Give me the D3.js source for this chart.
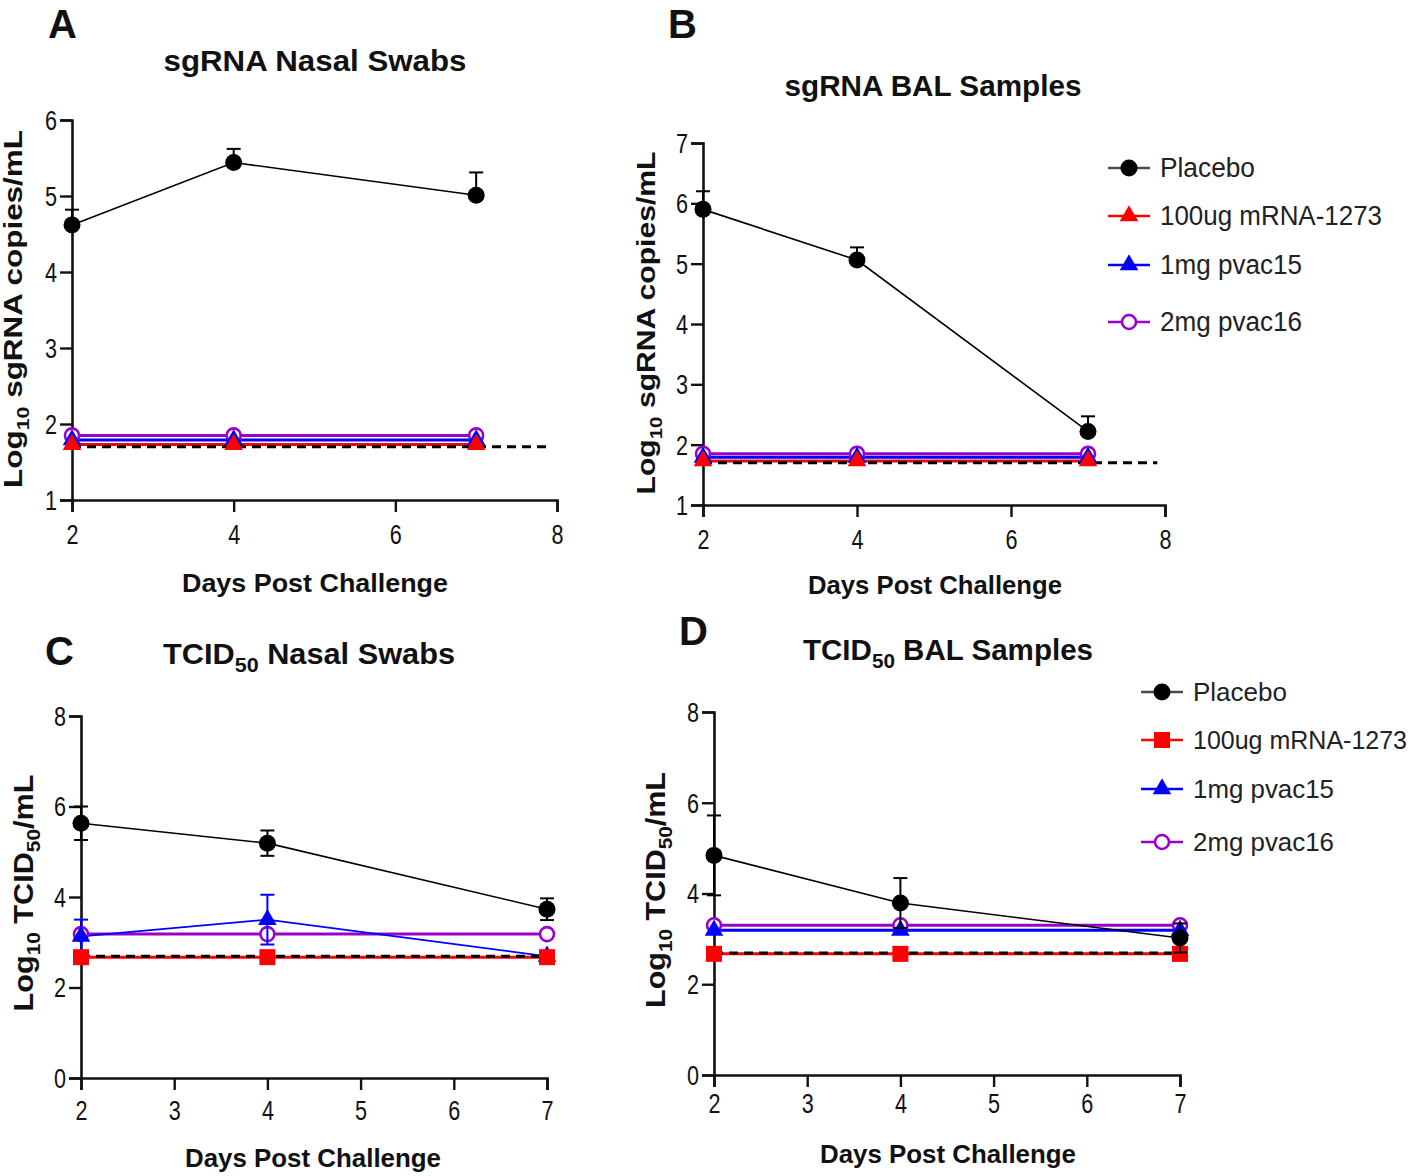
<!DOCTYPE html>
<html>
<head>
<meta charset="utf-8">
<script src="https://cdn.jsdelivr.net/npm/d3@7/dist/d3.min.js"></script>
<style>
  body { margin: 0; background: #fff; }
  svg { display: block; }
  .tick text { font-family: "Liberation Sans", Arial, sans-serif; font-size: 27px; fill: #111; }
</style>
</head>
<body>
<div id="chart"></div>
<script>
// DATA
const days = [2, 4, 7];
const groups = ["Placebo", "100ug mRNA-1273", "1mg pvac15", "2mg pvac16"];
const colors = ["#000000", "#ff0000", "#0000ff", "#9900cc"];

// A  sgRNA nasal swabs
const aPlacebo = [4.62, 5.44, 5.01];
const aPlaceboErr = [0.20, 0.18, 0.30];
const aMrna = [1.73, 1.73, 1.73];
const aPvac15 = [1.79, 1.79, 1.79];
const aPvac16 = [1.85, 1.85, 1.85];
const aLod = 1.7;

// B  sgRNA BAL
const bPlacebo = [5.90, 5.06, 2.22];
const bPlaceboErr = [0.30, 0.21, 0.25];
const bMrna = [1.73, 1.73, 1.73];
const bPvac15 = [1.79, 1.79, 1.79];
const bPvac16 = [1.85, 1.85, 1.85];
const bLod = 1.7;

// C  TCID50 nasal swabs
const cPlacebo = [5.63, 5.19, 3.73];
const cPlaceboErr = [0.37, 0.28, 0.24];
const cMrna = [2.67, 2.67, 2.67];
const cPvac15 = [3.13, 3.50, 2.69];
const cPvac15Err = [0.37, 0.55, 0];
const cPvac16 = [3.18, 3.18, 3.18];
const cLod = 2.69;

// D  TCID50 BAL
const dPlacebo = [4.84, 3.79, 3.02];
const dPlaceboErr = [0.88, 0.55, 0.32];
const dMrna = [2.67, 2.67, 2.67];
const dPvac15 = [3.19, 3.19, 3.19];
const dPvac16 = [3.30, 3.30, 3.30];
const dLod = 2.69;

const xTicksAB = [2, 4, 6, 8];
const xTicksCD = [2, 3, 4, 5, 6, 7];

const W = 1417, H = 1176;
const svg = d3.select("#chart").append("svg").attr("width", W).attr("height", H);

const SANS = "'Liberation Sans', Arial, sans-serif";

// the source figure is squeezed sideways, so glyphs get narrowed
function squeeze(sel, k) {
  sel.each(function () {
    const t = d3.select(this);
    const xx = +t.attr("x") || 0;
    t.attr("x", 0).attr("transform", `translate(${xx},0) scale(${k},1)`);
  });
}

function drawPanel(p) {
  const x = d3.scaleLinear().domain(p.xDomain).range(p.xRange);
  const y = d3.scaleLinear().domain(p.yDomain).range(p.yRange);
  const g = svg.append("g");

  // axes
  const xa = g.append("g")
    .attr("transform", `translate(0,${p.yRange[0]})`)
    .call(d3.axisBottom(x).tickValues(p.xTicks).tickSize(12).tickPadding(p.xPad).tickFormat(d3.format("d")));
  const ya = g.append("g")
    .attr("transform", `translate(${p.xRange[0]},0)`)
    .call(d3.axisLeft(y).tickValues(p.yTicks).tickSize(12).tickPadding(3).tickFormat(d3.format("d")));
  [xa, ya].forEach(a => {
    a.select(".domain").attr("stroke-width", 2.6).attr("stroke", "#111");
    a.selectAll(".tick line").attr("stroke-width", 2.4).attr("stroke", "#111");
  });
  xa.selectAll(".tick text").attr("dy", null).attr("dominant-baseline", "hanging");
  ya.selectAll(".tick text").attr("dy", null).attr("dominant-baseline", "central");
  squeeze(xa.selectAll(".tick text"), 0.8);
  squeeze(ya.selectAll(".tick text"), 0.8);

  const line = d3.line().x((d, i) => x(days[i])).y(d => y(d));

  // coloured series, drawn back to front
  p.series.slice().reverse().forEach(s => {
    g.append("path").datum(s.values)
      .attr("fill", "none").attr("stroke", s.color)
      .attr("stroke-width", s.width).attr("d", line);
  });

  // limit of detection
  g.append("line")
    .attr("x1", x(2)).attr("x2", x(p.lodEnd))
    .attr("y1", y(p.lod)).attr("y2", y(p.lod))
    .attr("stroke", "#000").attr("stroke-width", 3).attr("stroke-dasharray", "9,6");

  // error bars and markers
  p.series.slice().reverse().forEach(s => {
    if (s.err) {
      s.values.forEach((v, i) => {
        const e = s.err[i];
        if (!e) return;
        const lo = p.bothWays ? v - e : v;
        g.append("line").attr("x1", x(days[i])).attr("x2", x(days[i]))
          .attr("y1", y(v + e)).attr("y2", y(lo))
          .attr("stroke", s.color).attr("stroke-width", 2);
        const caps = p.bothWays ? [v + e, v - e] : [v + e];
        caps.forEach(c => {
          g.append("line").attr("x1", x(days[i]) - 7).attr("x2", x(days[i]) + 7)
            .attr("y1", y(c)).attr("y2", y(c))
            .attr("stroke", s.color).attr("stroke-width", 2);
        });
      });
    }
    s.values.forEach((v, i) => drawMarker(g, s.marker, x(days[i]), y(v), s.color));
  });

  // titles
  const title = svg.append("text").attr("x", p.titleX).attr("y", p.titleY)
    .attr("text-anchor", "middle").attr("font-family", SANS)
    .attr("font-weight", "bold").attr("font-size", 30).attr("fill", "#111")
    .attr("textLength", p.titleLen).attr("lengthAdjust", "spacingAndGlyphs");
  p.title.forEach(t => title.append("tspan").text(t.text)
    .attr("font-size", t.sub ? 21 : null).attr("dy", t.sub ? 8 : (t.after ? -8 : null)));

  svg.append("text").attr("x", p.letterX).attr("y", p.letterY)
    .attr("font-family", SANS).attr("font-weight", "bold").attr("font-size", 40)
    .attr("fill", "#111").text(p.letter);

  svg.append("text").attr("x", p.xLabelX).attr("y", p.xLabelY)
    .attr("text-anchor", "middle").attr("font-family", SANS)
    .attr("font-weight", "bold").attr("font-size", 26).attr("fill", "#111")
    .attr("textLength", p.xLabelLen).attr("lengthAdjust", "spacingAndGlyphs")
    .text("Days Post Challenge");

  const yl = svg.append("text")
    .attr("transform", `translate(${p.yLabelX},${p.yLabelY}) rotate(-90)`)
    .attr("text-anchor", "middle").attr("font-family", SANS)
    .attr("font-weight", "bold").attr("font-size", p.yLabelSize).attr("fill", "#111")
    .attr("textLength", p.yLabelLen).attr("lengthAdjust", "spacingAndGlyphs");
  yl.append("tspan").text("Log");
  yl.append("tspan").text("10").attr("font-size", p.yLabelSize * 0.68).attr("dy", 7);
  yl.append("tspan").text(p.yLabelRest[0]).attr("dy", -7);
  if (p.yLabelRest.length > 1) {
    yl.append("tspan").text(p.yLabelRest[1]).attr("font-size", p.yLabelSize * 0.68).attr("dy", 7);
    yl.append("tspan").text(p.yLabelRest[2]).attr("dy", -7);
  }

  if (p.legend) {
    const lg = svg.append("g");
    groups.forEach((name, i) => {
      const ly = p.legend.ys[i];
      const m = p.legend.markers[i];
      lg.append("line").attr("x1", p.legend.x).attr("x2", p.legend.x + 42)
        .attr("y1", ly).attr("y2", ly).attr("stroke", colors[i])
        .attr("stroke-width", 2.5).attr("opacity", i === 0 ? 0.7 : 1);
      drawMarker(lg, m, p.legend.x + 21, ly, colors[i]);
      lg.append("text").attr("x", p.legend.x + 52).attr("y", ly)
        .attr("dominant-baseline", "central").attr("font-family", SANS)
        .attr("font-size", p.legend.size).attr("fill", "#222")
        .attr("textLength", p.legend.lens[i]).attr("lengthAdjust", "spacingAndGlyphs")
        .text(name);
    });
  }
}

function drawMarker(g, type, cx, cy, color) {
  if (type === "circle") {
    g.append("circle").attr("cx", cx).attr("cy", cy).attr("r", 8.5).attr("fill", color);
  } else if (type === "open") {
    g.append("circle").attr("cx", cx).attr("cy", cy).attr("r", 7).attr("fill", "#fff")
      .attr("stroke", color).attr("stroke-width", 2.6);
  } else if (type === "triangle") {
    g.append("path").attr("transform", `translate(${cx},${cy})`)
      .attr("d", d3.symbol(d3.symbolTriangle, 150)()).attr("fill", color);
  } else if (type === "square") {
    g.append("rect").attr("x", cx - 8).attr("y", cy - 8).attr("width", 16).attr("height", 16)
      .attr("fill", color);
  }
}

drawPanel({
  letter: "A", letterX: 48, letterY: 38,
  title: [{ text: "sgRNA Nasal Swabs" }], titleX: 315, titleY: 71, titleLen: 303,
  xDomain: [2, 8], xRange: [72, 557], xTicks: xTicksAB, xPad: 13,
  yDomain: [1, 6], yRange: [500, 120], yTicks: [1, 2, 3, 4, 5, 6],
  xLabelX: 315, xLabelY: 592, xLabelLen: 266,
  yLabelX: 22, yLabelY: 309, yLabelLen: 358, yLabelSize: 25, yLabelRest: [" sgRNA copies/mL"],
  lod: aLod, lodEnd: 7.9, bothWays: false,
  series: [
    { values: aPlacebo, err: aPlaceboErr, color: colors[0], marker: "circle", width: 1.6 },
    { values: aMrna, color: colors[1], marker: "triangle", width: 3 },
    { values: aPvac15, color: colors[2], marker: "triangle", width: 3 },
    { values: aPvac16, color: colors[3], marker: "open", width: 3 }
  ]
});

drawPanel({
  letter: "B", letterX: 668, letterY: 38,
  title: [{ text: "sgRNA BAL Samples" }], titleX: 933, titleY: 96, titleLen: 297,
  xDomain: [2, 8], xRange: [703, 1165], xTicks: xTicksAB, xPad: 13,
  yDomain: [1, 7], yRange: [505, 143], yTicks: [1, 2, 3, 4, 5, 6, 7],
  xLabelX: 935, xLabelY: 594, xLabelLen: 254,
  yLabelX: 655, yLabelY: 323, yLabelLen: 343, yLabelSize: 25, yLabelRest: [" sgRNA copies/mL"],
  lod: bLod, lodEnd: 7.9, bothWays: false,
  series: [
    { values: bPlacebo, err: bPlaceboErr, color: colors[0], marker: "circle", width: 1.6 },
    { values: bMrna, color: colors[1], marker: "triangle", width: 3 },
    { values: bPvac15, color: colors[2], marker: "triangle", width: 3 },
    { values: bPvac16, color: colors[3], marker: "open", width: 3 }
  ],
  legend: { x: 1108, ys: [168, 216, 265, 322], lens: [95, 222, 142, 142], size: 27,
            markers: ["circle", "triangle", "triangle", "open"] }
});

drawPanel({
  letter: "C", letterX: 45, letterY: 665,
  title: [{ text: "TCID" }, { text: "50", sub: true }, { text: " Nasal Swabs", after: true }], titleX: 309, titleY: 664, titleLen: 292,
  xDomain: [2, 7], xRange: [81, 547], xTicks: xTicksCD, xPad: 11,
  yDomain: [0, 8], yRange: [1078, 716], yTicks: [0, 2, 4, 6, 8],
  xLabelX: 313, xLabelY: 1167, xLabelLen: 256,
  yLabelX: 33, yLabelY: 893, yLabelLen: 237, yLabelSize: 27, yLabelRest: [" TCID", "50", "/mL"],
  lod: cLod, lodEnd: 7, bothWays: true,
  series: [
    { values: cPlacebo, err: cPlaceboErr, color: colors[0], marker: "circle", width: 1.6 },
    { values: cMrna, color: colors[1], marker: "square", width: 3 },
    { values: cPvac15, err: cPvac15Err, color: colors[2], marker: "triangle", width: 1.8 },
    { values: cPvac16, color: colors[3], marker: "open", width: 3 }
  ]
});

drawPanel({
  letter: "D", letterX: 679, letterY: 645,
  title: [{ text: "TCID" }, { text: "50", sub: true }, { text: " BAL Samples", after: true }], titleX: 948, titleY: 660, titleLen: 290,
  xDomain: [2, 7], xRange: [714, 1180], xTicks: xTicksCD, xPad: 7,
  yDomain: [0, 8], yRange: [1075, 712], yTicks: [0, 2, 4, 6, 8],
  xLabelX: 948, xLabelY: 1163, xLabelLen: 256,
  yLabelX: 665, yLabelY: 890, yLabelLen: 236, yLabelSize: 27, yLabelRest: [" TCID", "50", "/mL"],
  lod: dLod, lodEnd: 7, bothWays: true,
  series: [
    { values: dPlacebo, err: dPlaceboErr, color: colors[0], marker: "circle", width: 1.6 },
    { values: dMrna, color: colors[1], marker: "square", width: 3 },
    { values: dPvac15, color: colors[2], marker: "triangle", width: 3 },
    { values: dPvac16, color: colors[3], marker: "open", width: 3 }
  ],
  legend: { x: 1141, ys: [692, 740, 789, 842], lens: [94, 214, 141, 141], size: 25,
            markers: ["circle", "square", "triangle", "open"] }
});
</script>
</body>
</html>
